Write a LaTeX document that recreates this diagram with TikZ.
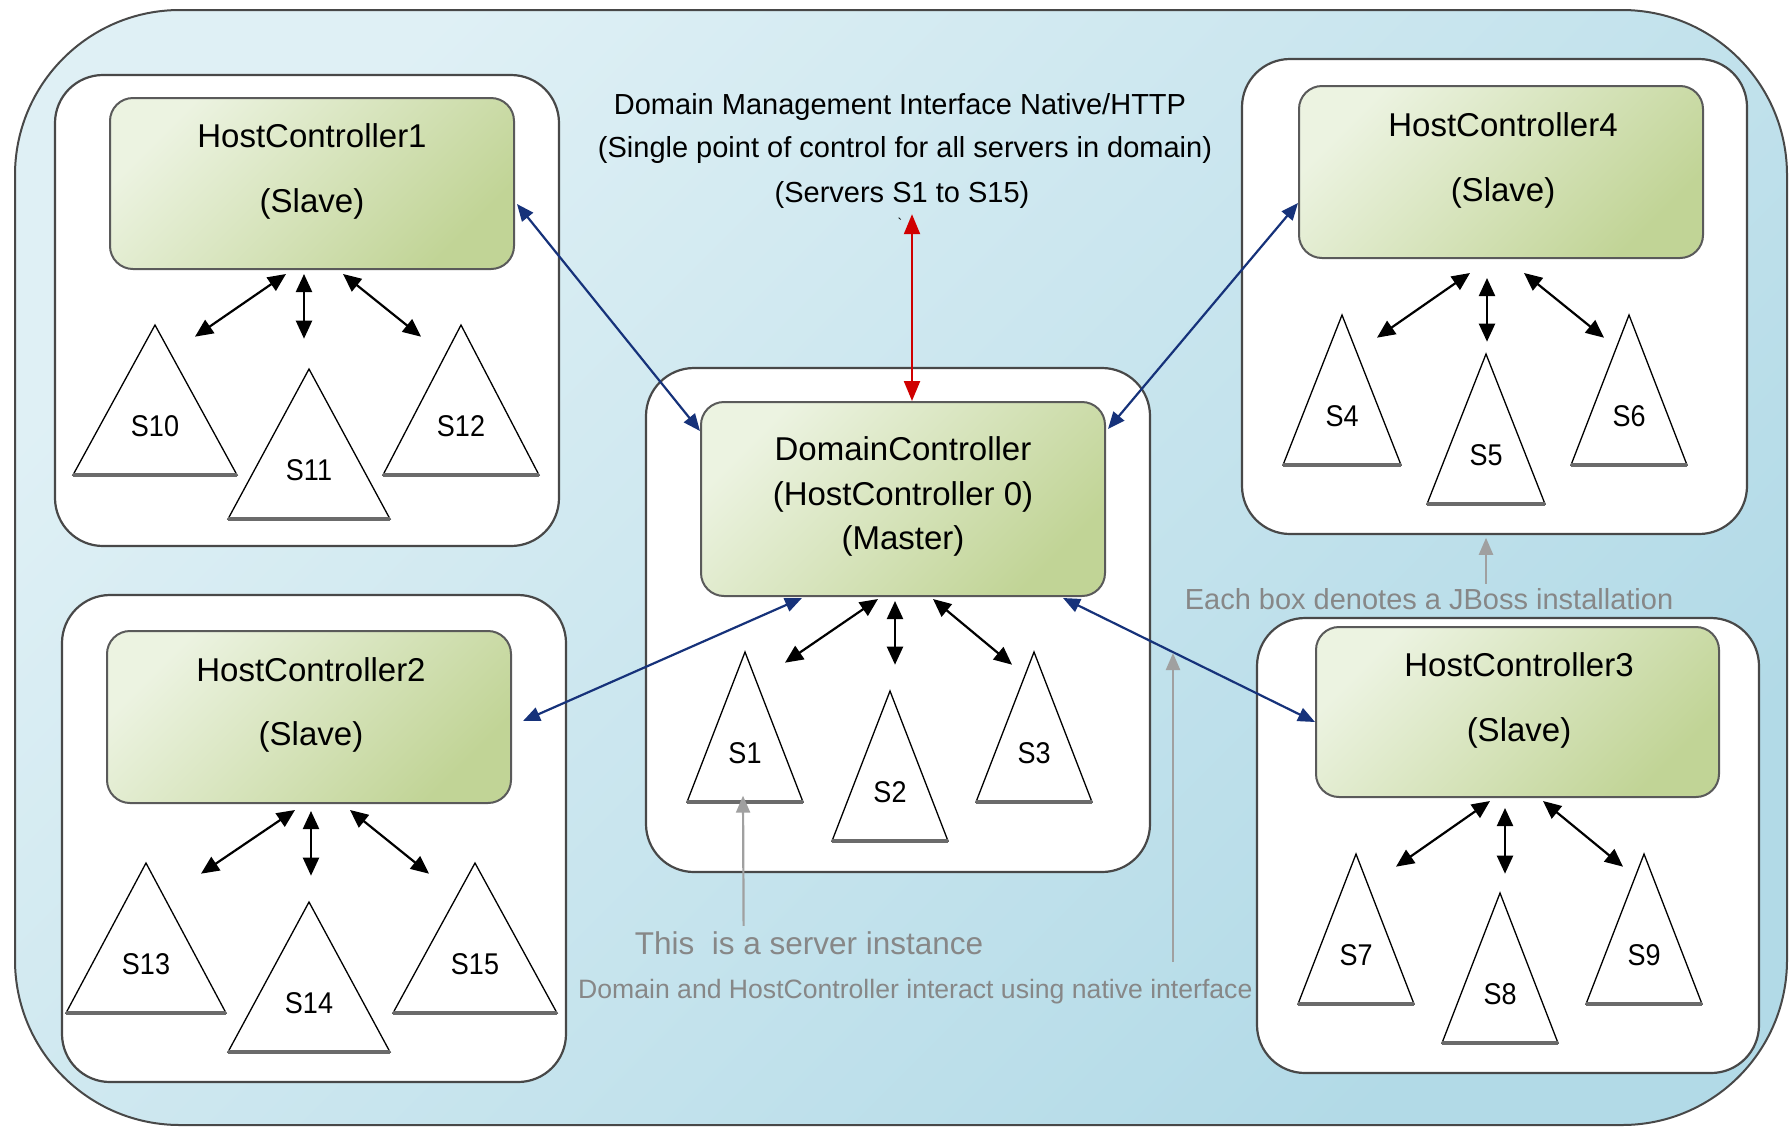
\documentclass[tikz,border=0pt]{standalone}
\usepackage{fontspec}
\setmainfont{Liberation Sans}
\newfontfamily\narrowf{Liberation Sans}[FakeStretch=0.9]
\usetikzlibrary{arrows.meta,calc}
\definecolor{bgA}{RGB}{223,240,245}
\definecolor{bgB}{RGB}{178,218,231}
\definecolor{grA}{RGB}{236,243,225}
\definecolor{grB}{RGB}{193,212,150}
\definecolor{navyc}{RGB}{22,50,122}
\definecolor{redc}{RGB}{208,0,0}
\definecolor{annoT}{RGB}{135,135,135}
\definecolor{annoL}{RGB}{160,160,160}
\definecolor{edgec}{RGB}{72,72,72}
\newcommand\srvtri[5]{%
  \path[tri] ({#2-#4},{#3+150}) -- (#2,#3) -- ({#2+#4},{#3+150}) -- cycle;
  \draw[tribase] ({#2-#4},{#3+150}) -- ({#2+#4},{#3+150});
  \node[trilbl] (#1) at (#2,{#3+111}) {#5};}
\begin{document}
\begin{tikzpicture}[x=1pt,y=-1pt,
  outerbox/.style={draw=edgec, line width=2pt, rounded corners=165pt, top color=bgA, bottom color=bgB, shading angle=45},
  group/.style={draw=edgec, line width=2.2pt, fill=white, rounded corners=48pt},
  hostbox/.style={draw=edgec!90, line width=2pt, rounded corners=23pt, top color=grA, bottom color=grB, shading angle=45, inner sep=0pt},
  boxtxt/.style={font=\fontsize{33}{38}\selectfont, inner sep=0pt, anchor=base},
  toptxt/.style={font=\fontsize{29}{34}\selectfont, inner sep=0pt, anchor=base},
  trilbl/.style={font=\narrowf\fontsize{30}{34}\selectfont, inner sep=0pt, anchor=base},
  annot/.style={text=annoT, inner sep=0pt, anchor=base},
  tri/.style={draw=black, line width=1.3pt, fill=white, line join=miter},
  tribase/.style={draw=black!58, line width=3.4pt},
  blk/.style={black, line width=2.2pt, {Triangle[length=18pt,width=16pt]}-{Triangle[length=18pt,width=16pt]}},
  blu/.style={navyc, line width=2.2pt, {Triangle[length=17pt,width=14pt]}-{Triangle[length=17pt,width=14pt]}},
  redarr/.style={redc, line width=2.2pt, {Triangle[length=20pt,width=16pt]}-{Triangle[length=20pt,width=16pt]}},
  gry/.style={annoL, line width=2.2pt, -{Triangle[length=17pt,width=14pt]}}
]
\useasboundingbox (0,0) rectangle (1790,1128);
\draw[outerbox] (15,10) rectangle (1787,1125);

% annotations text
\node[annot, font=\fontsize{29}{33}\selectfont] (jboss) at (1429,609) {Each box denotes a JBoss installation};
\node[annot, font=\fontsize{31.5}{36}\selectfont] (inst) at (809,954) {This\ \ is a server instance};
\node[annot, font=\fontsize{26.6}{30}\selectfont, anchor=base west] (native) at (578,998) {Domain and HostController interact using native interface};

% top text
\node[toptxt] (dmi1) at (900,114) {Domain Management Interface Native/HTTP};
\node[toptxt] (dmi2) at (905,157) {(Single point of control for all servers in domain)};
\node[toptxt] (dmi3) at (902,202) {(Servers S1 to S15)};
\node[font=\fontsize{14}{14}\selectfont, inner sep=0pt] (tick) at (900,223) {\textasciigrave};

% group boxes
\draw[group] (55,75) rectangle (559,546);
\draw[group] (646,368) rectangle (1150,872);
\draw[group] (1242,59) rectangle (1747,534);
\draw[group] (62,595) rectangle (566,1082);
\draw[group] (1257,618) rectangle (1759,1073);

% controller boxes
\node[hostbox, minimum width=404pt, minimum height=171pt] (hc1) at (312,183.5) {};
\node[hostbox, minimum width=404pt, minimum height=172pt] (hc2) at (309,717) {};
\node[hostbox, minimum width=403pt, minimum height=170pt] (hc3) at (1517.5,712) {};
\node[hostbox, minimum width=404pt, minimum height=172pt] (hc4) at (1501,172) {};
\node[hostbox, minimum width=404pt, minimum height=194pt] (dc) at (903,499) {};

\node[boxtxt] (hc1a) at (312,147) {HostController1};
\node[boxtxt] (hc1b) at (312,212) {(Slave)};
\node[boxtxt] (hc2a) at (311,681) {HostController2};
\node[boxtxt] (hc2b) at (311,745) {(Slave)};
\node[boxtxt] (hc3a) at (1519,676) {HostController3};
\node[boxtxt] (hc3b) at (1519,741) {(Slave)};
\node[boxtxt] (hc4a) at (1503,136) {HostController4};
\node[boxtxt] (hc4b) at (1503,201) {(Slave)};
\node[boxtxt] (dca) at (903,460) {DomainController};
\node[boxtxt] (dcb) at (903,505) {(HostController 0)};
\node[boxtxt] (dcc) at (903,549) {(Master)};

% servers
\srvtri{s10}{155}{325}{82}{S10}
\srvtri{s11}{309}{369}{81}{S11}
\srvtri{s12}{461}{325}{78}{S12}
\srvtri{s13}{146}{863}{80}{S13}
\srvtri{s14}{309}{902}{81}{S14}
\srvtri{s15}{475}{863}{82}{S15}
\srvtri{s1}{745}{652}{58}{S1}
\srvtri{s2}{890}{691}{58}{S2}
\srvtri{s3}{1034}{652}{58}{S3}
\srvtri{s4}{1342}{315}{59}{S4}
\srvtri{s5}{1486}{354}{59}{S5}
\srvtri{s6}{1629}{315}{58}{S6}
\srvtri{s7}{1356}{854}{58}{S7}
\srvtri{s8}{1500}{893}{58}{S8}
\srvtri{s9}{1644}{854}{58}{S9}

% host controller to servers
\draw[blk] ($(hc1.south)+(-26,4)$) -- ($(s10)+(40,-89)$);
\draw[blk] ($(hc1.south)+(-8,4)$) -- ($(s11)+(-5,-131)$);
\draw[blk] ($(hc1.south)+(31,4)$) -- ($(s12)+(-40,-89)$);
\draw[blk] ($(hc2.south)+(-14,6)$) -- ($(s13)+(55,-90)$);
\draw[blk] ($(hc2.south)+(2,7)$) -- ($(s14)+(2,-127)$);
\draw[blk] ($(hc2.south)+(41,6)$) -- ($(s15)+(-46,-90)$);
\draw[blk] ($(dc.south)+(-25,2)$) -- ($(s1)+(40,-90)$);
\draw[blk] ($(dc.south)+(-8,4)$) -- ($(s2)+(5,-127)$);
\draw[blk] ($(dc.south)+(30,2)$) -- ($(s3)+(-22,-88)$);
\draw[blk] ($(hc4.south)+(-31,14)$) -- ($(s4)+(35,-78)$);
\draw[blk] ($(hc4.south)+(-14,19)$) -- ($(s5)+(1,-113)$);
\draw[blk] ($(hc4.south)+(23,14)$) -- ($(s6)+(-25,-78)$);
\draw[blk] ($(hc3.south)+(-27.5,3)$) -- ($(s7)+(40,-88)$);
\draw[blk] ($(hc3.south)+(-12.5,10)$) -- ($(s8)+(5,-120)$);
\draw[blk] ($(hc3.south)+(25.5,3)$) -- ($(s9)+(-21,-88)$);

% domain controller to host controllers
\draw[blu] ($(hc1.east)+(2,20.5)$) -- ($(dc.north west)+(0,30)$);
\draw[blu] ($(hc4.west)+(0,31)$) -- ($(dc.north east)+(2,28)$);
\draw[blu] ($(dc.south west)+(102,1)$) -- ($(hc2.east)+(11,4)$);
\draw[blu] ($(dc.south east)+(-43,1)$) -- ($(hc3.west)+(0,10)$);

% management interface
\draw[redarr] ($(dc.north)+(9,0)$) -- ($(dmi3.south)+(10,6)$);

% annotation arrows
\coordinate (nat1) at (1173,962);
\coordinate (nat2) at (1173,653);
\draw[gry] ($(jboss.north)+(57,-4)$) -- ($(jboss.north)+(57,-50)$);
\draw[gry] ($(inst.north west)+(109,-5)$) -- ($(s1)+(-2,43)$);
\draw[gry] (nat1) -- (nat2);
\end{tikzpicture}
\end{document}
